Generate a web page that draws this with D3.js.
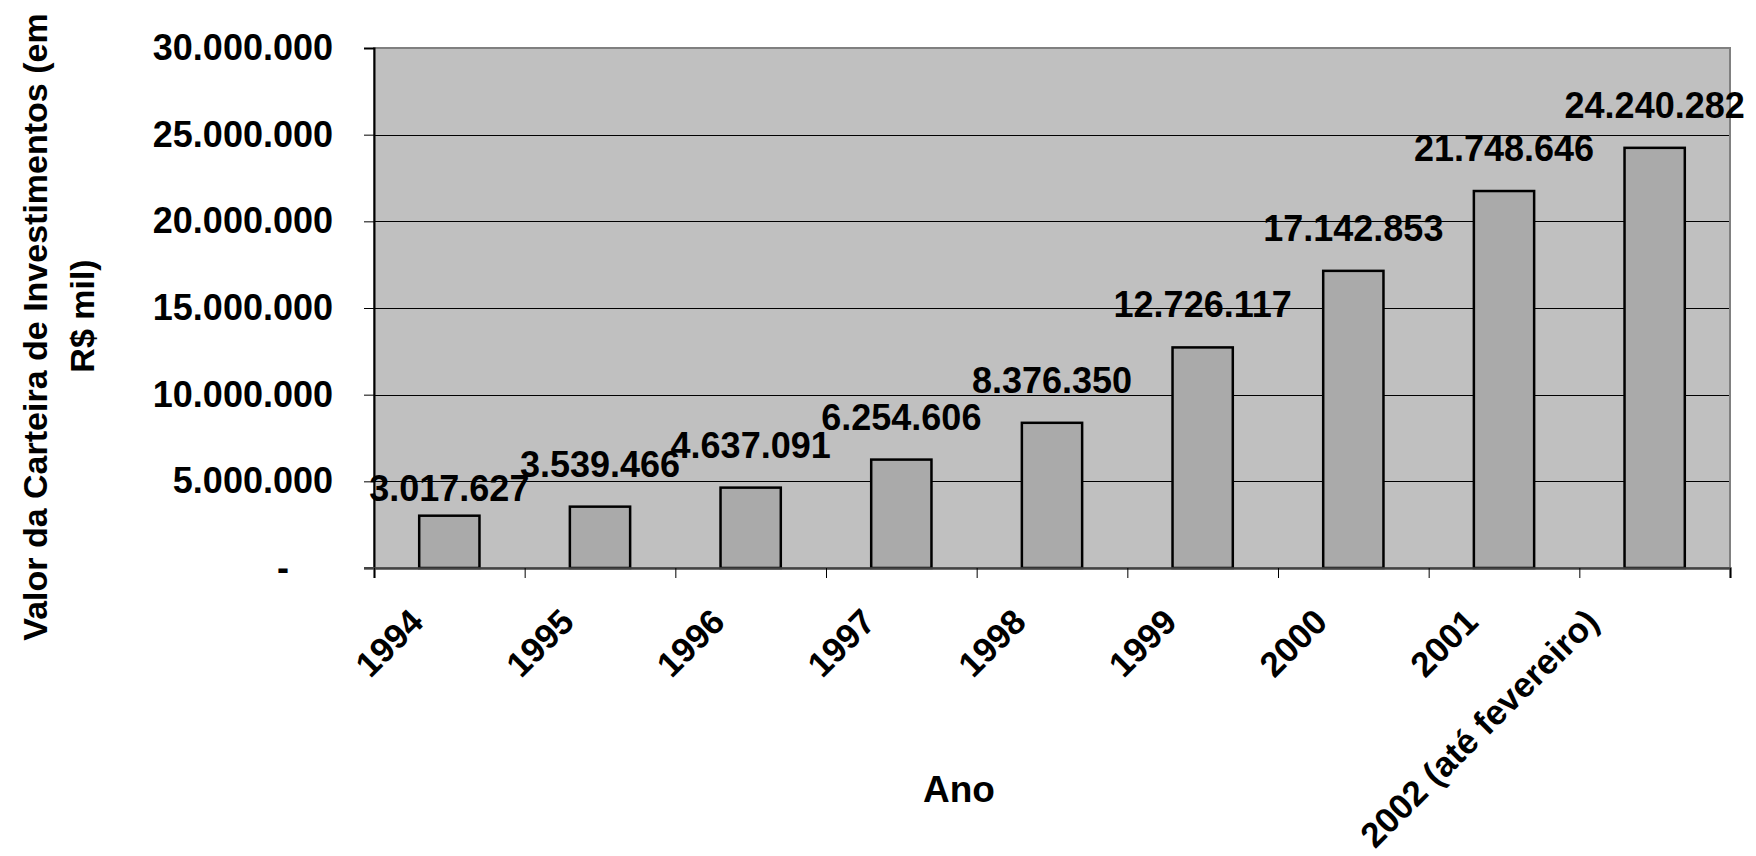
<!DOCTYPE html>
<html>
<head>
<meta charset="utf-8">
<script src="https://cdn.jsdelivr.net/npm/d3@7"></script>
<style>
  html, body { margin: 0; padding: 0; background: #ffffff; }
  svg { display: block; }
  text { font-family: "Liberation Sans", Arial, sans-serif; font-weight: bold; fill: #000; }
</style>
</head>
<body>
<svg id="chart" width="1756" height="856"></svg>
<script>
// ---- data ----
const categories = ["1994", "1995", "1996", "1997", "1998", "1999", "2000", "2001", "2002 (até fevereiro)"];
const values = [3017627, 3539466, 4637091, 6254606, 8376350, 12726117, 17142853, 21748646, 24240282];
const yTickValues = [0, 5000000, 10000000, 15000000, 20000000, 25000000, 30000000];
const yTitleLines = ["Valor da Carteira de Investimentos (em", "R$ mil)"];
const xTitle = "Ano";

// ---- layout ----
const W = 1756, H = 856;
const plot = { left: 374, right: 1730, top: 48, bottom: 568 };

const svg = d3.select("#chart");

const locale = d3.formatLocale({ decimal: ",", thousands: ".", grouping: [3], currency: ["R$", ""] });
const fmt = locale.format(",d");

const x = d3.scaleBand().domain(categories).range([plot.left, plot.right])
  .paddingInner(0.6).paddingOuter(0.3);
const xEdge = d3.scaleLinear().domain([0, categories.length]).range([plot.left, plot.right]);
const y = d3.scaleLinear().domain([0, 30000000]).range([plot.bottom, plot.top]);

// plot background
svg.append("rect")
  .attr("x", plot.left).attr("y", plot.top)
  .attr("width", plot.right - plot.left).attr("height", plot.bottom - plot.top)
  .attr("fill", "#c0c0c0").attr("stroke", "#808080").attr("stroke-width", 2);

// gridlines
svg.append("g").selectAll("line")
  .data(yTickValues.filter(v => v > 0 && v < 30000000))
  .join("line")
  .attr("x1", plot.left).attr("x2", plot.right - 1)
  .attr("y1", d => Math.round(y(d)) + 0.5).attr("y2", d => Math.round(y(d)) + 0.5)
  .attr("stroke", "#000").attr("stroke-width", 1);

// bars
svg.append("g").selectAll("rect")
  .data(values)
  .join("rect")
  .attr("x", (d, i) => x(categories[i]))
  .attr("y", d => y(d))
  .attr("width", x.bandwidth())
  .attr("height", d => y(0) - y(d))
  .attr("fill", "#aaaaaa").attr("stroke", "#000").attr("stroke-width", 2.5);

// y axis
const yAxis = d3.axisLeft(y).tickValues(yTickValues).tickSize(10).tickPadding(31)
  .tickFormat(d => d === 0 ? "-" : fmt(d));
const gy = svg.append("g").attr("transform", `translate(${plot.left},0)`).call(yAxis);
gy.select(".domain").attr("stroke", "#000").attr("stroke-width", 2);
gy.selectAll(".tick line").attr("stroke", "#000").attr("stroke-width", 1);
gy.selectAll(".tick text")
  .attr("font-size", 36).attr("font-family", "Liberation Sans, Arial, sans-serif")
  .attr("font-weight", "bold").attr("fill", "#000")
  .attr("dx", d => d === 0 ? -44 : 0);

// x axis (ticks at category boundaries)
const xAxis = d3.axisBottom(xEdge).tickValues(d3.range(categories.length + 1)).tickSize(10).tickFormat("");
const gx = svg.append("g").attr("transform", `translate(0,${plot.bottom})`).call(xAxis);
gx.select(".domain").attr("stroke", "#444").attr("stroke-width", 2.5);
gx.selectAll(".tick line").attr("stroke", "#000").attr("stroke-width", 1);

// extend zero tick line to left
svg.append("line")
  .attr("x1", plot.left - 10).attr("x2", plot.left)
  .attr("y1", plot.bottom).attr("y2", plot.bottom)
  .attr("stroke", "#444").attr("stroke-width", 2);

// category labels (rotated)
svg.append("g").selectAll("text")
  .data(categories)
  .join("text")
  .attr("transform", (d, i) => {
    const cx = x(d) + x.bandwidth() / 2;
    const shift = d.length > 6 ? -54 : -24;
    return `translate(${cx + shift},${plot.bottom + 56}) rotate(-45)`;
  })
  .attr("text-anchor", "end")
  .attr("font-size", 35)
  .text(d => d);

// data labels
svg.append("g").selectAll("text")
  .data(values)
  .join("text")
  .attr("x", (d, i) => x(categories[i]) + x.bandwidth() / 2)
  .attr("y", (d, i) => y(d) - (i === 0 ? 15 : 30))
  .attr("text-anchor", "middle")
  .attr("font-size", 36)
  .text(d => fmt(d));

// x title
svg.append("text")
  .attr("x", 959).attr("y", 802)
  .attr("text-anchor", "middle")
  .attr("font-size", 37)
  .text(xTitle);

// y title (two lines, rotated)
svg.append("text")
  .attr("transform", "translate(47,327) rotate(-90)")
  .attr("text-anchor", "middle")
  .attr("font-size", 34)
  .text(yTitleLines[0]);
svg.append("text")
  .attr("transform", "translate(94,316) rotate(-90)")
  .attr("text-anchor", "middle")
  .attr("font-size", 34)
  .text(yTitleLines[1]);
</script>
</body>
</html>
